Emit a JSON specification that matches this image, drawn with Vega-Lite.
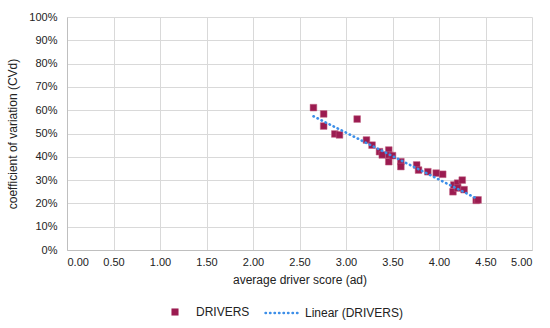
{
  "$schema": "https://vega.github.io/schema/vega-lite/v6.json",
  "width": 465,
  "height": 233,
  "autosize": "none",
  "padding": {"left": 67, "top": 17, "right": 18, "bottom": 78},
  "background": "white",
  "config": {
    "font": "Liberation Sans",
    "view": {"stroke": null},
    "axis": {
      "labelFont": "Liberation Sans",
      "titleFont": "Liberation Sans",
      "labelFontSize": 11,
      "titleFontSize": 12,
      "titleFontWeight": "normal",
      "labelColor": "#222222",
      "titleColor": "#222222",
      "gridColor": "#d9d9d9",
      "domainColor": "#bfbfbf",
      "ticks": false
    },
    "legend": {
      "padding": 0,
      "labelFont": "Liberation Sans",
      "labelFontSize": 12,
      "labelColor": "#222222"
    }
  },
  "datasets": {
    "points": [
      {"x": 2.65, "y": 0.611, "series": "DRIVERS"},
      {"x": 2.76, "y": 0.584, "series": "DRIVERS"},
      {"x": 2.76, "y": 0.532, "series": "DRIVERS"},
      {"x": 2.88, "y": 0.498, "series": "DRIVERS"},
      {"x": 2.93, "y": 0.494, "series": "DRIVERS"},
      {"x": 3.12, "y": 0.562, "series": "DRIVERS"},
      {"x": 3.22, "y": 0.472, "series": "DRIVERS"},
      {"x": 3.28, "y": 0.45, "series": "DRIVERS"},
      {"x": 3.36, "y": 0.422, "series": "DRIVERS"},
      {"x": 3.39, "y": 0.408, "series": "DRIVERS"},
      {"x": 3.46, "y": 0.429, "series": "DRIVERS"},
      {"x": 3.46, "y": 0.408, "series": "DRIVERS"},
      {"x": 3.46, "y": 0.379, "series": "DRIVERS"},
      {"x": 3.5, "y": 0.405, "series": "DRIVERS"},
      {"x": 3.59, "y": 0.379, "series": "DRIVERS"},
      {"x": 3.59, "y": 0.358, "series": "DRIVERS"},
      {"x": 3.76, "y": 0.365, "series": "DRIVERS"},
      {"x": 3.78, "y": 0.343, "series": "DRIVERS"},
      {"x": 3.88, "y": 0.336, "series": "DRIVERS"},
      {"x": 3.97, "y": 0.33, "series": "DRIVERS"},
      {"x": 4.04, "y": 0.325, "series": "DRIVERS"},
      {"x": 4.15, "y": 0.25, "series": "DRIVERS"},
      {"x": 4.16, "y": 0.279, "series": "DRIVERS"},
      {"x": 4.2, "y": 0.287, "series": "DRIVERS"},
      {"x": 4.2, "y": 0.266, "series": "DRIVERS"},
      {"x": 4.25, "y": 0.3, "series": "DRIVERS"},
      {"x": 4.27, "y": 0.259, "series": "DRIVERS"},
      {"x": 4.4, "y": 0.213, "series": "DRIVERS"},
      {"x": 4.42, "y": 0.215, "series": "DRIVERS"}
    ],
    "trend": [
      {"x": 2.65, "y": 0.574, "series": "Linear (DRIVERS)"},
      {"x": 4.42, "y": 0.218, "series": "Linear (DRIVERS)"}
    ]
  },
  "encoding": {
    "x": {
      "field": "x", "type": "quantitative",
      "scale": {"domain": [0, 5], "nice": false},
      "axis": {
        "title": "average driver score (ad)",
        "values": [0, 0.5, 1, 1.5, 2, 2.5, 3, 3.5, 4, 4.5, 5],
        "format": ".2f",
        "labelPadding": 6,
        "titlePadding": 7
      }
    },
    "y": {
      "field": "y", "type": "quantitative",
      "scale": {"domain": [0, 1], "nice": false},
      "axis": {
        "title": "coefficient of variation (CVd)",
        "values": [0, 0.1, 0.2, 0.3, 0.4, 0.5, 0.6, 0.7, 0.8, 0.9, 1],
        "format": ".0%",
        "labelPadding": 10,
        "titlePadding": 9
      }
    }
  },
  "layer": [
    {
      "data": {"name": "points"},
      "mark": {"type": "square", "size": 45, "opacity": 1, "stroke": "#c06080", "strokeWidth": 0.5},
      "encoding": {
        "color": {
          "field": "series", "type": "nominal",
          "scale": {"domain": ["DRIVERS"], "range": ["#9b1b50"]},
          "legend": {
            "title": null,
            "orient": "none",
            "legendX": 102,
            "legendY": 289,
            "symbolType": "square",
            "symbolSize": 50,
            "symbolStrokeWidth": 0,
            "symbolOpacity": 1,
            "labelOffset": 15
          }
        }
      }
    },
    {
      "data": {"name": "trend"},
      "mark": {"type": "line", "color": "#3d8fe8", "strokeWidth": 2.6, "strokeCap": "round"},
      "encoding": {
        "strokeDash": {
          "field": "series", "type": "nominal",
          "scale": {"domain": ["Linear (DRIVERS)"], "range": [[0.5, 4]]},
          "legend": {
            "title": null,
            "orient": "none",
            "legendX": 197,
            "legendY": 278,
            "symbolType": "stroke",
            "symbolSize": 1089,
            "symbolStrokeColor": "#3d8fe8",
            "symbolStrokeWidth": 2.4,
            "labelOffset": 5,
            "encode": {"symbols": {"update": {"strokeCap": {"value": "round"}}}}
          }
        }
      }
    }
  ]
}
